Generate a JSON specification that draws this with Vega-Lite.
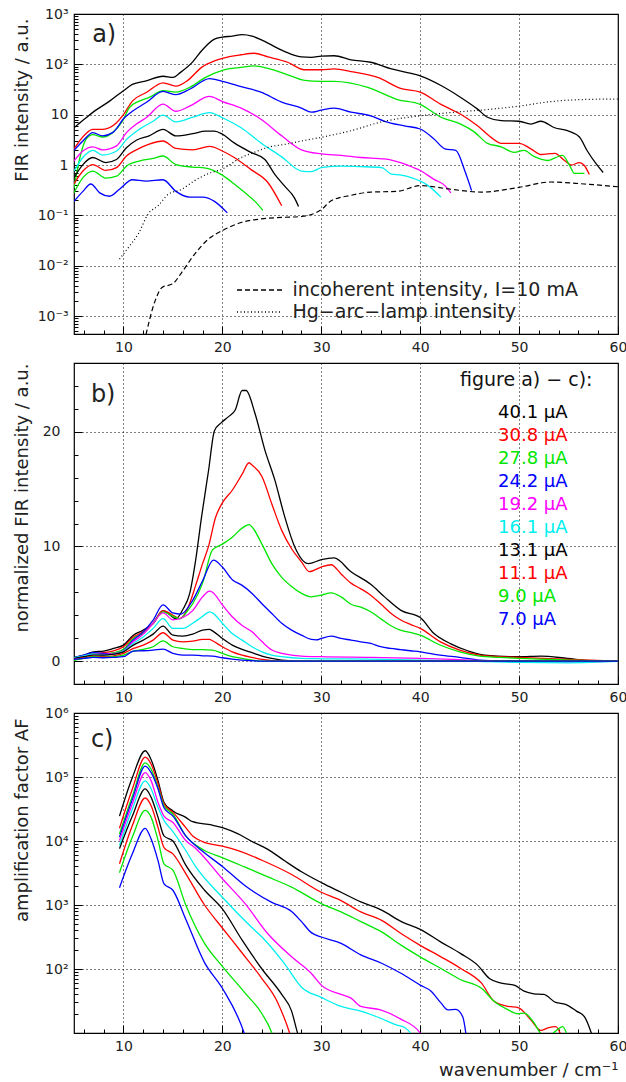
{
"$schema": "https://vega.github.io/schema/vega-lite/v6.json",
"background": "white",
"padding": {"left": 12, "top": 6, "right": 0, "bottom": 2},
"bounds": "flush",
"spacing": 29,
"resolve": {"scale": {"color": "independent", "strokeDash": "independent"}, "legend": {"color": "independent", "strokeDash": "independent"}},
"datasets": {
"A": [
{"s":40.1,"x":5,"y":5.5},{"s":40.1,"x":6,"y":8},{"s":40.1,"x":7,"y":11.5},{"s":40.1,"x":8.6,"y":18.6},{"s":40.1,"x":10,"y":30},{"s":40.1,"x":10.9,"y":40},{"s":40.1,"x":12.3,"y":47},{"s":40.1,"x":14,"y":58},{"s":40.1,"x":15,"y":55},{"s":40.1,"x":15.8,"y":70},{"s":40.1,"x":17,"y":112},{"s":40.1,"x":17.9,"y":186},{"s":40.1,"x":19.2,"y":316},{"s":40.1,"x":20,"y":347},{"s":40.1,"x":21,"y":363},{"s":40.1,"x":22,"y":389},{"s":40.1,"x":23,"y":363},{"s":40.1,"x":24,"y":302},{"s":40.1,"x":25,"y":240},{"s":40.1,"x":26,"y":191},{"s":40.1,"x":27,"y":158},{"s":40.1,"x":28,"y":141},{"s":40.1,"x":29,"y":138},{"s":40.1,"x":30,"y":145},{"s":40.1,"x":31.3,"y":148},{"s":40.1,"x":33,"y":123},{"s":40.1,"x":35,"y":110},{"s":40.1,"x":37.1,"y":81},{"s":40.1,"x":39.1,"y":66},{"s":40.1,"x":40,"y":59},{"s":40.1,"x":42.1,"y":38},{"s":40.1,"x":44.1,"y":22},{"s":40.1,"x":45.8,"y":12.9},{"s":40.1,"x":46.8,"y":8.9},{"s":40.1,"x":48.2,"y":7.6},{"s":40.1,"x":50,"y":7.4},{"s":40.1,"x":51.2,"y":6.5},{"s":40.1,"x":52.2,"y":7.4},{"s":40.1,"x":53.6,"y":5.5},{"s":40.1,"x":54.9,"y":4.8},{"s":40.1,"x":56.1,"y":3.6},{"s":40.1,"x":56.9,"y":1.9},{"s":40.1,"x":57.8,"y":1.05},{"s":40.1,"x":58.5,"y":0.71},
{"s":30.8,"x":5,"y":2.1},{"s":30.8,"x":6.2,"y":4.2},{"s":30.8,"x":6.9,"y":5.1},{"s":30.8,"x":7.9,"y":5.1},{"s":30.8,"x":9.3,"y":6.9},{"s":30.8,"x":10,"y":10},{"s":30.8,"x":10.9,"y":18.6},{"s":30.8,"x":12.3,"y":27.5},{"s":30.8,"x":14,"y":43},{"s":30.8,"x":15.3,"y":37},{"s":30.8,"x":16.5,"y":48},{"s":30.8,"x":17.9,"y":87},{"s":30.8,"x":19.2,"y":117},{"s":30.8,"x":20,"y":132},{"s":30.8,"x":21.9,"y":155},{"s":30.8,"x":23.2,"y":166},{"s":30.8,"x":24.6,"y":141},{"s":30.8,"x":26.6,"y":110},{"s":30.8,"x":28.3,"y":78},{"s":30.8,"x":30,"y":78},{"s":30.8,"x":31.3,"y":81},{"s":30.8,"x":33,"y":72},{"s":30.8,"x":35.7,"y":55},{"s":30.8,"x":38.1,"y":33},{"s":30.8,"x":40,"y":28},{"s":30.8,"x":42.1,"y":16},{"s":30.8,"x":44.1,"y":10.2},{"s":30.8,"x":45.8,"y":6},{"s":30.8,"x":47.2,"y":3.5},{"s":30.8,"x":48.2,"y":2.7},{"s":30.8,"x":50,"y":2.7},{"s":30.8,"x":51.2,"y":2.1},{"s":30.8,"x":52.2,"y":1.62},{"s":30.8,"x":53.6,"y":1.7},{"s":30.8,"x":54.6,"y":1.23},{"s":30.8,"x":55.3,"y":1},{"s":30.8,"x":56.1,"y":1.12},{"s":30.8,"x":56.6,"y":0.98},{"s":30.8,"x":57.1,"y":0.65},
{"s":27.8,"x":5,"y":0.35},{"s":27.8,"x":5.6,"y":1.41},{"s":27.8,"x":6.2,"y":3.2},{"s":27.8,"x":6.9,"y":4},{"s":27.8,"x":7.9,"y":3.6},{"s":27.8,"x":8.9,"y":4.4},{"s":27.8,"x":9.9,"y":7.4},{"s":27.8,"x":10.6,"y":13.8},{"s":27.8,"x":11.6,"y":18.6},{"s":27.8,"x":12.6,"y":22},{"s":27.8,"x":14,"y":30},{"s":27.8,"x":15.3,"y":28},{"s":27.8,"x":16.7,"y":35},{"s":27.8,"x":18.3,"y":55},{"s":27.8,"x":20,"y":76},{"s":27.8,"x":21.9,"y":87},{"s":27.8,"x":23.2,"y":93},{"s":27.8,"x":24.6,"y":83},{"s":27.8,"x":26.6,"y":62},{"s":27.8,"x":28.3,"y":48},{"s":27.8,"x":30,"y":46},{"s":27.8,"x":31.3,"y":46},{"s":27.8,"x":34.7,"y":35},{"s":27.8,"x":37.7,"y":20},{"s":27.8,"x":40,"y":16},{"s":27.8,"x":42.1,"y":8.9},{"s":27.8,"x":44.1,"y":6.5},{"s":27.8,"x":45.5,"y":4.5},{"s":27.8,"x":46.8,"y":2.7},{"s":27.8,"x":48.2,"y":2.3},{"s":27.8,"x":49.5,"y":1.78},{"s":27.8,"x":50.5,"y":1.95},{"s":27.8,"x":51.5,"y":1.48},{"s":27.8,"x":52.9,"y":1.23},{"s":27.8,"x":53.7,"y":1.41},{"s":27.8,"x":54.4,"y":1.55},{"s":27.8,"x":55.1,"y":0.98},{"s":27.8,"x":55.6,"y":0.68},{"s":27.8,"x":56.6,"y":0.68},
{"s":24.2,"x":5,"y":1.95},{"s":24.2,"x":5.9,"y":3},{"s":24.2,"x":6.9,"y":4.4},{"s":24.2,"x":7.9,"y":3.8},{"s":24.2,"x":8.9,"y":4.4},{"s":24.2,"x":10.1,"y":8.7},{"s":24.2,"x":10.9,"y":11.7},{"s":24.2,"x":12.3,"y":17.4},{"s":24.2,"x":14,"y":29},{"s":24.2,"x":15.3,"y":25},{"s":24.2,"x":16.7,"y":32},{"s":24.2,"x":18.7,"y":52},{"s":24.2,"x":20,"y":46},{"s":24.2,"x":21.9,"y":36},{"s":24.2,"x":23.9,"y":28},{"s":24.2,"x":26,"y":17.8},{"s":24.2,"x":28,"y":13.5},{"s":24.2,"x":29,"y":11.2},{"s":24.2,"x":30,"y":12.3},{"s":24.2,"x":31.3,"y":13.5},{"s":24.2,"x":33,"y":11.2},{"s":24.2,"x":35,"y":9.5},{"s":24.2,"x":36.4,"y":7.4},{"s":24.2,"x":38.4,"y":6},{"s":24.2,"x":40,"y":5.2},{"s":24.2,"x":41.4,"y":3.3},{"s":24.2,"x":42.5,"y":2.1},{"s":24.2,"x":43.6,"y":1.95},{"s":24.2,"x":44.5,"y":0.78},{"s":24.2,"x":45.2,"y":0.31},
{"s":19.2,"x":5,"y":1.2},{"s":19.2,"x":5.9,"y":1.9},{"s":19.2,"x":6.9,"y":2.3},{"s":19.2,"x":7.9,"y":2},{"s":19.2,"x":9.3,"y":2.4},{"s":19.2,"x":10.3,"y":4.4},{"s":19.2,"x":11.3,"y":6.5},{"s":19.2,"x":12.3,"y":8.7},{"s":19.2,"x":14,"y":16.2},{"s":19.2,"x":15.3,"y":11.7},{"s":19.2,"x":16.7,"y":14.8},{"s":19.2,"x":18.7,"y":23},{"s":19.2,"x":20,"y":18.2},{"s":19.2,"x":21.9,"y":13.5},{"s":19.2,"x":23.9,"y":8.1},{"s":19.2,"x":26,"y":3.8},{"s":19.2,"x":28,"y":2},{"s":19.2,"x":30,"y":1.66},{"s":19.2,"x":32,"y":1.55},{"s":19.2,"x":34,"y":1.41},{"s":19.2,"x":36.4,"y":1.32},{"s":19.2,"x":38.8,"y":0.98},{"s":19.2,"x":40,"y":0.78},{"s":19.2,"x":41.4,"y":0.52},{"s":19.2,"x":42.5,"y":0.39},{"s":19.2,"x":43.1,"y":0.28},
{"s":16.1,"x":5,"y":0.76},{"s":16.1,"x":5.9,"y":1.41},{"s":16.1,"x":6.9,"y":1.95},{"s":16.1,"x":7.9,"y":1.58},{"s":16.1,"x":9.3,"y":1.9},{"s":16.1,"x":10.3,"y":3.2},{"s":16.1,"x":11.6,"y":5.1},{"s":16.1,"x":13,"y":7.4},{"s":16.1,"x":14,"y":9.8},{"s":16.1,"x":15.3,"y":7.2},{"s":16.1,"x":17,"y":8.9},{"s":16.1,"x":18.7,"y":11},{"s":16.1,"x":20,"y":8.7},{"s":16.1,"x":21.9,"y":5.5},{"s":16.1,"x":23.9,"y":2.75},{"s":16.1,"x":26,"y":1.45},{"s":16.1,"x":28,"y":0.76},{"s":16.1,"x":29,"y":0.74},{"s":16.1,"x":30,"y":0.89},{"s":16.1,"x":32,"y":0.95},{"s":16.1,"x":34,"y":0.93},{"s":16.1,"x":36.1,"y":0.89},{"s":16.1,"x":37.1,"y":0.66},{"s":16.1,"x":38.1,"y":0.63},{"s":16.1,"x":39.1,"y":0.56},{"s":16.1,"x":40.8,"y":0.39},{"s":16.1,"x":42.1,"y":0.23},
{"s":13.1,"x":5,"y":0.56},{"s":13.1,"x":5.9,"y":1.02},{"s":13.1,"x":6.9,"y":1.41},{"s":13.1,"x":8.2,"y":1.12},{"s":13.1,"x":9.3,"y":1.29},{"s":13.1,"x":10.3,"y":2.2},{"s":13.1,"x":11.3,"y":3.1},{"s":13.1,"x":12.6,"y":3.8},{"s":13.1,"x":14,"y":5.1},{"s":13.1,"x":15.3,"y":3.8},{"s":13.1,"x":17,"y":4.2},{"s":13.1,"x":18.3,"y":4.7},{"s":13.1,"x":19.2,"y":4.7},{"s":13.1,"x":20,"y":4.1},{"s":13.1,"x":21.2,"y":2.75},{"s":13.1,"x":22.9,"y":1.78},{"s":13.1,"x":24.3,"y":1.29},{"s":13.1,"x":25.3,"y":0.65},{"s":13.1,"x":26.3,"y":0.38},{"s":13.1,"x":27.3,"y":0.22},{"s":13.1,"x":27.7,"y":0.15},
{"s":11.1,"x":5,"y":0.42},{"s":11.1,"x":5.9,"y":0.76},{"s":11.1,"x":6.9,"y":1.02},{"s":11.1,"x":8.2,"y":0.78},{"s":11.1,"x":9.3,"y":0.89},{"s":11.1,"x":10.3,"y":1.51},{"s":11.1,"x":11.3,"y":2},{"s":11.1,"x":12.6,"y":2.6},{"s":11.1,"x":14,"y":3},{"s":11.1,"x":15.3,"y":2.14},{"s":11.1,"x":17,"y":2},{"s":11.1,"x":18.7,"y":2.34},{"s":11.1,"x":20,"y":1.9},{"s":11.1,"x":21.2,"y":1.41},{"s":11.1,"x":22.9,"y":0.81},{"s":11.1,"x":24.6,"y":0.45},{"s":11.1,"x":26,"y":0.155},
{"s":9,"x":5,"y":0.28},{"s":9,"x":5.9,"y":0.56},{"s":9,"x":6.9,"y":0.76},{"s":9,"x":8.2,"y":0.55},{"s":9,"x":9.3,"y":0.6},{"s":9,"x":10.3,"y":0.95},{"s":9,"x":11.6,"y":1.2},{"s":9,"x":13,"y":1.35},{"s":9,"x":14,"y":1.51},{"s":9,"x":15.3,"y":1.02},{"s":9,"x":17,"y":0.91},{"s":9,"x":18.3,"y":0.87},{"s":9,"x":20,"y":0.63},{"s":9,"x":21.2,"y":0.42},{"s":9,"x":22.3,"y":0.28},{"s":9,"x":23.3,"y":0.19},{"s":9,"x":24.1,"y":0.126},
{"s":7,"x":5,"y":0.19},{"s":7,"x":5.9,"y":0.3},{"s":7,"x":6.7,"y":0.42},{"s":7,"x":7.6,"y":0.28},{"s":7,"x":8.6,"y":0.24},{"s":7,"x":9.6,"y":0.33},{"s":7,"x":10.9,"y":0.51},{"s":7,"x":12.3,"y":0.48},{"s":7,"x":14,"y":0.51},{"s":7,"x":15.3,"y":0.3},{"s":7,"x":16.7,"y":0.23},{"s":7,"x":18,"y":0.23},{"s":7,"x":19.2,"y":0.19},{"s":7,"x":20.5,"y":0.112}
],
"R": [
{"s":"incoherent intensity, I=10 mA","x":12.1,"y":0.0003},{"s":"incoherent intensity, I=10 mA","x":13.2,"y":0.002},{"s":"incoherent intensity, I=10 mA","x":13.9,"y":0.0037},{"s":"incoherent intensity, I=10 mA","x":15,"y":0.0044},{"s":"incoherent intensity, I=10 mA","x":15.9,"y":0.0074},{"s":"incoherent intensity, I=10 mA","x":17.2,"y":0.017},{"s":"incoherent intensity, I=10 mA","x":18.6,"y":0.034},{"s":"incoherent intensity, I=10 mA","x":20,"y":0.05},{"s":"incoherent intensity, I=10 mA","x":21.9,"y":0.072},{"s":"incoherent intensity, I=10 mA","x":23.9,"y":0.085},{"s":"incoherent intensity, I=10 mA","x":26,"y":0.091},{"s":"incoherent intensity, I=10 mA","x":28,"y":0.095},{"s":"incoherent intensity, I=10 mA","x":30,"y":0.13},{"s":"incoherent intensity, I=10 mA","x":31,"y":0.195},{"s":"incoherent intensity, I=10 mA","x":33,"y":0.25},{"s":"incoherent intensity, I=10 mA","x":35,"y":0.29},{"s":"incoherent intensity, I=10 mA","x":37.7,"y":0.3},{"s":"incoherent intensity, I=10 mA","x":40,"y":0.39},{"s":"incoherent intensity, I=10 mA","x":43.1,"y":0.33},{"s":"incoherent intensity, I=10 mA","x":46.2,"y":0.29},{"s":"incoherent intensity, I=10 mA","x":50,"y":0.36},{"s":"incoherent intensity, I=10 mA","x":53.2,"y":0.46},{"s":"incoherent intensity, I=10 mA","x":56.6,"y":0.42},{"s":"incoherent intensity, I=10 mA","x":60,"y":0.37},
{"s":"Hg−arc−lamp intensity","x":9.6,"y":0.0135},{"s":"Hg−arc−lamp intensity","x":10.5,"y":0.023},{"s":"Hg−arc−lamp intensity","x":11.5,"y":0.043},{"s":"Hg−arc−lamp intensity","x":12.5,"y":0.107},{"s":"Hg−arc−lamp intensity","x":13.5,"y":0.155},{"s":"Hg−arc−lamp intensity","x":14.5,"y":0.26},{"s":"Hg−arc−lamp intensity","x":15.9,"y":0.33},{"s":"Hg−arc−lamp intensity","x":17.2,"y":0.49},{"s":"Hg−arc−lamp intensity","x":18.6,"y":0.68},{"s":"Hg−arc−lamp intensity","x":20,"y":0.83},{"s":"Hg−arc−lamp intensity","x":21.9,"y":1.41},{"s":"Hg−arc−lamp intensity","x":23.2,"y":1.78},{"s":"Hg−arc−lamp intensity","x":24.6,"y":2.24},{"s":"Hg−arc−lamp intensity","x":26.6,"y":2.63},{"s":"Hg−arc−lamp intensity","x":28,"y":3},{"s":"Hg−arc−lamp intensity","x":30,"y":3.55},{"s":"Hg−arc−lamp intensity","x":33,"y":4.8},{"s":"Hg−arc−lamp intensity","x":36.1,"y":7.2},{"s":"Hg−arc−lamp intensity","x":40,"y":9.5},{"s":"Hg−arc−lamp intensity","x":43,"y":11},{"s":"Hg−arc−lamp intensity","x":46.5,"y":12.5},{"s":"Hg−arc−lamp intensity","x":50,"y":14.8},{"s":"Hg−arc−lamp intensity","x":53,"y":18},{"s":"Hg−arc−lamp intensity","x":56.5,"y":20},{"s":"Hg−arc−lamp intensity","x":60,"y":20.5}
],
"B": [
{"s":40.1,"x":5,"y":0.32},{"s":40.1,"x":6,"y":0.52},{"s":40.1,"x":7,"y":0.81},{"s":40.1,"x":8,"y":0.87},{"s":40.1,"x":9,"y":1.1},{"s":40.1,"x":10,"y":1.39},{"s":40.1,"x":11,"y":2.26},{"s":40.1,"x":12,"y":2.7},{"s":40.1,"x":13,"y":3.28},{"s":40.1,"x":14,"y":4.4},{"s":40.1,"x":15.3,"y":3.7},{"s":40.1,"x":16,"y":4.5},{"s":40.1,"x":16.7,"y":5.9},{"s":40.1,"x":17.3,"y":8.8},{"s":40.1,"x":17.9,"y":12.6},{"s":40.1,"x":18.6,"y":16.6},{"s":40.1,"x":19.2,"y":20.1},{"s":40.1,"x":19.9,"y":20.8},{"s":40.1,"x":20.6,"y":21.3},{"s":40.1,"x":21.3,"y":21.9},{"s":40.1,"x":22,"y":23.6},{"s":40.1,"x":22.4,"y":23.6},{"s":40.1,"x":23.3,"y":21.6},{"s":40.1,"x":24.3,"y":18.4},{"s":40.1,"x":25.3,"y":15.8},{"s":40.1,"x":26.3,"y":12.6},{"s":40.1,"x":27.3,"y":10},{"s":40.1,"x":28.7,"y":8.5},{"s":40.1,"x":30,"y":8.85},{"s":40.1,"x":31.3,"y":9},{"s":40.1,"x":33,"y":7.8},{"s":40.1,"x":35,"y":6.7},{"s":40.1,"x":36.4,"y":5.6},{"s":40.1,"x":38.1,"y":4.4},{"s":40.1,"x":40,"y":3.8},{"s":40.1,"x":41.4,"y":2.4},{"s":40.1,"x":43.1,"y":1.5},{"s":40.1,"x":44.8,"y":0.9},{"s":40.1,"x":46.5,"y":0.52},{"s":40.1,"x":50,"y":0.38},{"s":40.1,"x":52.2,"y":0.44},{"s":40.1,"x":54.9,"y":0.23},{"s":40.1,"x":57.3,"y":0.03},{"s":40.1,"x":60,"y":0},
{"s":30.8,"x":5,"y":0.23},{"s":30.8,"x":6,"y":0.44},{"s":30.8,"x":7,"y":0.67},{"s":30.8,"x":8,"y":0.73},{"s":30.8,"x":9,"y":0.9},{"s":30.8,"x":10,"y":1.25},{"s":30.8,"x":11,"y":2.1},{"s":30.8,"x":12,"y":2.55},{"s":30.8,"x":13,"y":3.3},{"s":30.8,"x":14,"y":4.4},{"s":30.8,"x":15,"y":4},{"s":30.8,"x":15.7,"y":3.7},{"s":30.8,"x":16.5,"y":4.6},{"s":30.8,"x":17.3,"y":6.6},{"s":30.8,"x":18,"y":8.5},{"s":30.8,"x":18.6,"y":10},{"s":30.8,"x":19.3,"y":12.5},{"s":30.8,"x":20,"y":13.8},{"s":30.8,"x":21,"y":14.9},{"s":30.8,"x":22,"y":16.3},{"s":30.8,"x":22.7,"y":17.3},{"s":30.8,"x":23,"y":17.1},{"s":30.8,"x":24,"y":16.1},{"s":30.8,"x":25,"y":13.7},{"s":30.8,"x":26,"y":11.4},{"s":30.8,"x":27,"y":9.8},{"s":30.8,"x":28,"y":8.65},{"s":30.8,"x":28.8,"y":7.8},{"s":30.8,"x":30,"y":8.2},{"s":30.8,"x":31,"y":8.4},{"s":30.8,"x":32,"y":7.6},{"s":30.8,"x":33,"y":6.8},{"s":30.8,"x":34,"y":6.3},{"s":30.8,"x":35,"y":5.75},{"s":30.8,"x":36,"y":5},{"s":30.8,"x":37,"y":4.2},{"s":30.8,"x":38,"y":3.6},{"s":30.8,"x":39,"y":3.2},{"s":30.8,"x":40,"y":2.85},{"s":30.8,"x":42,"y":1.7},{"s":30.8,"x":44,"y":0.96},{"s":30.8,"x":46,"y":0.52},{"s":30.8,"x":48,"y":0.38},{"s":30.8,"x":50,"y":0.32},{"s":30.8,"x":55,"y":0.15},{"s":30.8,"x":60,"y":0},
{"s":27.8,"x":5,"y":0.09},{"s":27.8,"x":6,"y":0.32},{"s":27.8,"x":7,"y":0.67},{"s":27.8,"x":8,"y":0.61},{"s":27.8,"x":9,"y":0.73},{"s":27.8,"x":10,"y":1.02},{"s":27.8,"x":11,"y":1.97},{"s":27.8,"x":12,"y":2.4},{"s":27.8,"x":13,"y":3.3},{"s":27.8,"x":14,"y":4.3},{"s":27.8,"x":15,"y":3.9},{"s":27.8,"x":15.7,"y":3.7},{"s":27.8,"x":16.5,"y":4.4},{"s":27.8,"x":17,"y":5},{"s":27.8,"x":18,"y":6.8},{"s":27.8,"x":19,"y":9.7},{"s":27.8,"x":20,"y":10.2},{"s":27.8,"x":21,"y":10.8},{"s":27.8,"x":22,"y":11.6},{"s":27.8,"x":22.7,"y":11.9},{"s":27.8,"x":23,"y":11.7},{"s":27.8,"x":24,"y":10.2},{"s":27.8,"x":25,"y":8.5},{"s":27.8,"x":26,"y":7.3},{"s":27.8,"x":27,"y":6.5},{"s":27.8,"x":28,"y":5.9},{"s":27.8,"x":29,"y":5.6},{"s":27.8,"x":30,"y":5.75},{"s":27.8,"x":31,"y":5.95},{"s":27.8,"x":32,"y":5.6},{"s":27.8,"x":33,"y":4.96},{"s":27.8,"x":34,"y":4.7},{"s":27.8,"x":35,"y":4.3},{"s":27.8,"x":36,"y":3.7},{"s":27.8,"x":37,"y":3.1},{"s":27.8,"x":38,"y":2.7},{"s":27.8,"x":39,"y":2.5},{"s":27.8,"x":40,"y":2.26},{"s":27.8,"x":42,"y":1.4},{"s":27.8,"x":44,"y":0.81},{"s":27.8,"x":46,"y":0.44},{"s":27.8,"x":48,"y":0.32},{"s":27.8,"x":50,"y":0.23},{"s":27.8,"x":55,"y":0.09},{"s":27.8,"x":60,"y":0},
{"s":24.2,"x":5,"y":0.29},{"s":24.2,"x":6,"y":0.52},{"s":24.2,"x":7,"y":0.73},{"s":24.2,"x":8,"y":0.67},{"s":24.2,"x":9,"y":0.61},{"s":24.2,"x":10,"y":0.9},{"s":24.2,"x":11,"y":1.83},{"s":24.2,"x":12,"y":2.55},{"s":24.2,"x":13,"y":3.57},{"s":24.2,"x":14,"y":4.9},{"s":24.2,"x":15,"y":4.2},{"s":24.2,"x":15.8,"y":4.1},{"s":24.2,"x":17,"y":5.3},{"s":24.2,"x":18,"y":7},{"s":24.2,"x":19.1,"y":8.8},{"s":24.2,"x":20,"y":8.2},{"s":24.2,"x":21,"y":7.1},{"s":24.2,"x":22,"y":6.6},{"s":24.2,"x":23,"y":5.9},{"s":24.2,"x":24,"y":5},{"s":24.2,"x":25,"y":4.15},{"s":24.2,"x":26,"y":3.3},{"s":24.2,"x":27,"y":2.7},{"s":24.2,"x":28,"y":2.26},{"s":24.2,"x":29,"y":1.89},{"s":24.2,"x":29.5,"y":1.85},{"s":24.2,"x":30,"y":1.97},{"s":24.2,"x":31,"y":2.18},{"s":24.2,"x":32,"y":1.97},{"s":24.2,"x":33,"y":1.83},{"s":24.2,"x":34,"y":1.68},{"s":24.2,"x":35,"y":1.54},{"s":24.2,"x":36,"y":1.25},{"s":24.2,"x":37,"y":1.1},{"s":24.2,"x":38,"y":1},{"s":24.2,"x":39,"y":0.9},{"s":24.2,"x":40,"y":0.81},{"s":24.2,"x":42,"y":0.52},{"s":24.2,"x":44,"y":0.32},{"s":24.2,"x":46,"y":0.09},{"s":24.2,"x":50,"y":0},{"s":24.2,"x":60,"y":0},
{"s":19.2,"x":5,"y":0.23},{"s":19.2,"x":6,"y":0.44},{"s":19.2,"x":7,"y":0.61},{"s":19.2,"x":8,"y":0.58},{"s":19.2,"x":9,"y":0.67},{"s":19.2,"x":10,"y":0.9},{"s":19.2,"x":11,"y":1.7},{"s":19.2,"x":12,"y":2.35},{"s":19.2,"x":13,"y":3.3},{"s":19.2,"x":14,"y":4.2},{"s":19.2,"x":15,"y":3.6},{"s":19.2,"x":16,"y":3.8},{"s":19.2,"x":17,"y":4.4},{"s":19.2,"x":18,"y":5.6},{"s":19.2,"x":18.7,"y":6.1},{"s":19.2,"x":19,"y":6},{"s":19.2,"x":20,"y":4.9},{"s":19.2,"x":21,"y":3.86},{"s":19.2,"x":22,"y":3.1},{"s":19.2,"x":23,"y":2.55},{"s":19.2,"x":24,"y":1.7},{"s":19.2,"x":25,"y":0.96},{"s":19.2,"x":26,"y":0.67},{"s":19.2,"x":27,"y":0.52},{"s":19.2,"x":28,"y":0.44},{"s":19.2,"x":30,"y":0.38},{"s":19.2,"x":35,"y":0.32},{"s":19.2,"x":40,"y":0.23},{"s":19.2,"x":45,"y":0.09},{"s":19.2,"x":50,"y":-0.06},{"s":19.2,"x":55,"y":-0.09},{"s":19.2,"x":60,"y":0},
{"s":16.1,"x":5,"y":0.29},{"s":16.1,"x":6,"y":0.46},{"s":16.1,"x":7,"y":0.61},{"s":16.1,"x":8,"y":0.52},{"s":16.1,"x":9,"y":0.61},{"s":16.1,"x":10,"y":0.87},{"s":16.1,"x":11,"y":1.54},{"s":16.1,"x":12,"y":2.1},{"s":16.1,"x":13,"y":2.85},{"s":16.1,"x":14,"y":3.7},{"s":16.1,"x":15,"y":2.85},{"s":16.1,"x":16,"y":2.85},{"s":16.1,"x":17,"y":3.3},{"s":16.1,"x":18,"y":3.9},{"s":16.1,"x":18.7,"y":4.3},{"s":16.1,"x":19,"y":4.2},{"s":16.1,"x":20,"y":3.3},{"s":16.1,"x":21,"y":2.4},{"s":16.1,"x":22,"y":1.83},{"s":16.1,"x":23,"y":1.25},{"s":16.1,"x":24,"y":0.81},{"s":16.1,"x":25,"y":0.52},{"s":16.1,"x":26,"y":0.38},{"s":16.1,"x":28,"y":0.23},{"s":16.1,"x":30,"y":0.2},{"s":16.1,"x":35,"y":0.17},{"s":16.1,"x":40,"y":0.09},{"s":16.1,"x":45,"y":0},{"s":16.1,"x":50,"y":-0.12},{"s":16.1,"x":55,"y":-0.15},{"s":16.1,"x":60,"y":-0.03},
{"s":13.1,"x":5,"y":0.23},{"s":13.1,"x":6,"y":0.38},{"s":13.1,"x":7,"y":0.52},{"s":13.1,"x":8,"y":0.52},{"s":13.1,"x":9,"y":0.61},{"s":13.1,"x":10,"y":0.81},{"s":13.1,"x":11,"y":1.39},{"s":13.1,"x":12,"y":1.83},{"s":13.1,"x":13,"y":2.35},{"s":13.1,"x":14,"y":3.05},{"s":13.1,"x":15,"y":2.26},{"s":13.1,"x":16,"y":2.18},{"s":13.1,"x":17,"y":2.35},{"s":13.1,"x":18,"y":2.7},{"s":13.1,"x":18.7,"y":2.76},{"s":13.1,"x":19,"y":2.64},{"s":13.1,"x":20,"y":1.97},{"s":13.1,"x":21,"y":1.39},{"s":13.1,"x":22,"y":1.02},{"s":13.1,"x":23,"y":0.73},{"s":13.1,"x":24,"y":0.44},{"s":13.1,"x":25,"y":0.23},{"s":13.1,"x":26,"y":0.09},{"s":13.1,"x":28,"y":0},{"s":13.1,"x":60,"y":0},
{"s":11.1,"x":5,"y":0.15},{"s":11.1,"x":6,"y":0.29},{"s":11.1,"x":7,"y":0.44},{"s":11.1,"x":8,"y":0.38},{"s":11.1,"x":9,"y":0.46},{"s":11.1,"x":10,"y":0.67},{"s":11.1,"x":11,"y":1.1},{"s":11.1,"x":12,"y":1.39},{"s":11.1,"x":13,"y":1.83},{"s":11.1,"x":14,"y":2.47},{"s":11.1,"x":15,"y":1.83},{"s":11.1,"x":16,"y":1.68},{"s":11.1,"x":17,"y":1.74},{"s":11.1,"x":18,"y":1.89},{"s":11.1,"x":18.7,"y":1.89},{"s":11.1,"x":19,"y":1.77},{"s":11.1,"x":20,"y":1.25},{"s":11.1,"x":21,"y":0.81},{"s":11.1,"x":22,"y":0.52},{"s":11.1,"x":23,"y":0.32},{"s":11.1,"x":24,"y":0.15},{"s":11.1,"x":25,"y":0.03},{"s":11.1,"x":26,"y":0},{"s":11.1,"x":60,"y":0},
{"s":9,"x":5,"y":0.09},{"s":9,"x":6,"y":0.23},{"s":9,"x":7,"y":0.38},{"s":9,"x":8,"y":0.32},{"s":9,"x":9,"y":0.38},{"s":9,"x":10,"y":0.52},{"s":9,"x":11,"y":0.87},{"s":9,"x":12,"y":1.02},{"s":9,"x":13,"y":1.25},{"s":9,"x":14,"y":1.77},{"s":9,"x":15,"y":1.25},{"s":9,"x":16,"y":1.1},{"s":9,"x":17,"y":1},{"s":9,"x":18,"y":1},{"s":9,"x":19,"y":0.96},{"s":9,"x":20,"y":0.67},{"s":9,"x":21,"y":0.38},{"s":9,"x":22,"y":0.23},{"s":9,"x":23,"y":0.09},{"s":9,"x":24,"y":0},{"s":9,"x":60,"y":0},
{"s":7,"x":5,"y":0.15},{"s":7,"x":6,"y":0.23},{"s":7,"x":7,"y":0.32},{"s":7,"x":8,"y":0.29},{"s":7,"x":9,"y":0.32},{"s":7,"x":10,"y":0.38},{"s":7,"x":11,"y":0.87},{"s":7,"x":12,"y":0.9},{"s":7,"x":13,"y":0.96},{"s":7,"x":14,"y":1.05},{"s":7,"x":15,"y":0.67},{"s":7,"x":16,"y":0.52},{"s":7,"x":17,"y":0.52},{"s":7,"x":18,"y":0.46},{"s":7,"x":19,"y":0.44},{"s":7,"x":20,"y":0.29},{"s":7,"x":21,"y":0.17},{"s":7,"x":22,"y":0.09},{"s":7,"x":24,"y":0},{"s":7,"x":60,"y":0}
],
"C": [
{"s":40.1,"x":9.6,"y":24500},{"s":40.1,"x":10.9,"y":98000},{"s":40.1,"x":12.2,"y":257000},{"s":40.1,"x":12.8,"y":186000},{"s":40.1,"x":13.5,"y":87000},{"s":40.1,"x":14.1,"y":40000},{"s":40.1,"x":15,"y":29500},{"s":40.1,"x":16.3,"y":23400},{"s":40.1,"x":17,"y":20000},{"s":40.1,"x":18.9,"y":17800},{"s":40.1,"x":20,"y":16200},{"s":40.1,"x":21.6,"y":12900},{"s":40.1,"x":22.9,"y":10000},{"s":40.1,"x":24.6,"y":7400},{"s":40.1,"x":26.3,"y":4900},{"s":40.1,"x":28,"y":3300},{"s":40.1,"x":30,"y":2240},{"s":40.1,"x":32,"y":1580},{"s":40.1,"x":34,"y":1120},{"s":40.1,"x":36.1,"y":830},{"s":40.1,"x":38.1,"y":550},{"s":40.1,"x":40,"y":417},{"s":40.1,"x":42.1,"y":263},{"s":40.1,"x":44.1,"y":174},{"s":40.1,"x":45.8,"y":115},{"s":40.1,"x":47,"y":71},{"s":40.1,"x":48.2,"y":60},{"s":40.1,"x":49.5,"y":56},{"s":40.1,"x":50.5,"y":45},{"s":40.1,"x":51.5,"y":41},{"s":40.1,"x":52.5,"y":40},{"s":40.1,"x":53.7,"y":30},{"s":40.1,"x":54.7,"y":28},{"s":40.1,"x":55.8,"y":22},{"s":40.1,"x":56.6,"y":18},{"s":40.1,"x":57.3,"y":10},{"s":40.1,"x":57.5,"y":8},
{"s":30.8,"x":9.6,"y":15800},{"s":30.8,"x":10.9,"y":65000},{"s":30.8,"x":12.2,"y":204000},{"s":30.8,"x":12.8,"y":158000},{"s":30.8,"x":13.5,"y":78000},{"s":30.8,"x":14.1,"y":38000},{"s":30.8,"x":15,"y":28000},{"s":30.8,"x":16.3,"y":16200},{"s":30.8,"x":17,"y":12000},{"s":30.8,"x":18,"y":9800},{"s":30.8,"x":20,"y":8300},{"s":30.8,"x":21.6,"y":7100},{"s":30.8,"x":24,"y":5000},{"s":30.8,"x":27,"y":3000},{"s":30.8,"x":30,"y":1580},{"s":30.8,"x":32,"y":1170},{"s":30.8,"x":34,"y":780},{"s":30.8,"x":36.1,"y":575},{"s":30.8,"x":38.1,"y":355},{"s":30.8,"x":40,"y":234},{"s":30.8,"x":42.1,"y":155},{"s":30.8,"x":44.1,"y":102},{"s":30.8,"x":46.2,"y":60},{"s":30.8,"x":47.5,"y":31},{"s":30.8,"x":48.9,"y":26},{"s":30.8,"x":49.9,"y":25},{"s":30.8,"x":51.2,"y":16},{"s":30.8,"x":52.2,"y":11},{"s":30.8,"x":52.9,"y":12},{"s":30.8,"x":53.7,"y":12.6},{"s":30.8,"x":54.4,"y":8},
{"s":27.8,"x":9.6,"y":12900},{"s":27.8,"x":10.9,"y":50000},{"s":27.8,"x":12.2,"y":166000},{"s":27.8,"x":12.8,"y":132000},{"s":27.8,"x":13.5,"y":68000},{"s":27.8,"x":14.1,"y":35500},{"s":27.8,"x":15,"y":26300},{"s":27.8,"x":16.3,"y":12000},{"s":27.8,"x":18.2,"y":7100},{"s":27.8,"x":20,"y":5500},{"s":27.8,"x":22.3,"y":3900},{"s":27.8,"x":24.6,"y":2750},{"s":27.8,"x":27,"y":1900},{"s":27.8,"x":30,"y":1050},{"s":27.8,"x":32,"y":780},{"s":27.8,"x":34,"y":550},{"s":27.8,"x":36.1,"y":380},{"s":27.8,"x":38.1,"y":234},{"s":27.8,"x":40,"y":155},{"s":27.8,"x":42.1,"y":102},{"s":27.8,"x":44.1,"y":68},{"s":27.8,"x":46.2,"y":50},{"s":27.8,"x":47.5,"y":31},{"s":27.8,"x":48.9,"y":23},{"s":27.8,"x":49.9,"y":20},{"s":27.8,"x":50.5,"y":20.4},{"s":27.8,"x":51.5,"y":14.5},{"s":27.8,"x":52.3,"y":9.5},{"s":27.8,"x":53,"y":8.9},{"s":27.8,"x":53.7,"y":10.7},{"s":27.8,"x":54.4,"y":12.6},{"s":27.8,"x":55,"y":8},
{"s":24.2,"x":9.6,"y":11500},{"s":24.2,"x":10.9,"y":44700},{"s":24.2,"x":12.2,"y":148000},{"s":24.2,"x":12.8,"y":117000},{"s":24.2,"x":13.5,"y":65000},{"s":24.2,"x":14.1,"y":33000},{"s":24.2,"x":15,"y":24500},{"s":24.2,"x":16.3,"y":12000},{"s":24.2,"x":17.9,"y":7100},{"s":24.2,"x":20,"y":4000},{"s":24.2,"x":22.3,"y":2000},{"s":24.2,"x":25,"y":1100},{"s":24.2,"x":27,"y":790},{"s":24.2,"x":28,"y":550},{"s":24.2,"x":29,"y":370},{"s":24.2,"x":30,"y":316},{"s":24.2,"x":32,"y":251},{"s":24.2,"x":34,"y":166},{"s":24.2,"x":36.1,"y":123},{"s":24.2,"x":38.1,"y":85},{"s":24.2,"x":40,"y":56},{"s":24.2,"x":41.1,"y":45},{"s":24.2,"x":42.1,"y":29.5},{"s":24.2,"x":42.8,"y":23},{"s":24.2,"x":43.6,"y":23.4},{"s":24.2,"x":44.3,"y":18},{"s":24.2,"x":44.7,"y":8},
{"s":19.2,"x":9.6,"y":10200},{"s":19.2,"x":10.9,"y":38000},{"s":19.2,"x":12.2,"y":117000},{"s":19.2,"x":12.8,"y":87000},{"s":19.2,"x":13.5,"y":40000},{"s":19.2,"x":14.1,"y":24500},{"s":19.2,"x":15,"y":19500},{"s":19.2,"x":16.3,"y":10200},{"s":19.2,"x":17.2,"y":7900},{"s":19.2,"x":20,"y":2570},{"s":19.2,"x":22.3,"y":1050},{"s":19.2,"x":24.6,"y":355},{"s":19.2,"x":27,"y":155},{"s":19.2,"x":29,"y":85},{"s":19.2,"x":30,"y":56},{"s":19.2,"x":32,"y":40},{"s":19.2,"x":33,"y":35},{"s":19.2,"x":34,"y":26},{"s":19.2,"x":36,"y":23},{"s":19.2,"x":38,"y":16.6},{"s":19.2,"x":40,"y":10},{"s":19.2,"x":40.3,"y":8},
{"s":16.1,"x":9.6,"y":8500},{"s":16.1,"x":10.9,"y":31600},{"s":16.1,"x":12.2,"y":87000},{"s":16.1,"x":12.8,"y":65000},{"s":16.1,"x":13.5,"y":33000},{"s":16.1,"x":14.1,"y":21000},{"s":16.1,"x":15,"y":14000},{"s":16.1,"x":16.3,"y":7100},{"s":16.1,"x":17.2,"y":4200},{"s":16.1,"x":20,"y":1320},{"s":16.1,"x":22.9,"y":457},{"s":16.1,"x":24,"y":316},{"s":16.1,"x":26.3,"y":120},{"s":16.1,"x":28,"y":52},{"s":16.1,"x":30,"y":36},{"s":16.1,"x":32,"y":26},{"s":16.1,"x":34,"y":22},{"s":16.1,"x":36,"y":17},{"s":16.1,"x":37.5,"y":13.5},{"s":16.1,"x":38.5,"y":12},{"s":16.1,"x":39,"y":10},{"s":16.1,"x":39.3,"y":8},
{"s":13.1,"x":9.6,"y":7600},{"s":13.1,"x":10.9,"y":24500},{"s":13.1,"x":12.2,"y":65000},{"s":13.1,"x":12.8,"y":48000},{"s":13.1,"x":13.5,"y":23400},{"s":13.1,"x":14.1,"y":12000},{"s":13.1,"x":15,"y":10000},{"s":13.1,"x":16.3,"y":4200},{"s":13.1,"x":18.2,"y":1700},{"s":13.1,"x":20,"y":870},{"s":13.1,"x":22,"y":282},{"s":13.1,"x":24,"y":100},{"s":13.1,"x":26,"y":40},{"s":13.1,"x":27,"y":22},{"s":13.1,"x":27.6,"y":10},{"s":13.1,"x":27.8,"y":8},
{"s":11.1,"x":9.6,"y":4400},{"s":11.1,"x":10.9,"y":17400},{"s":11.1,"x":12.2,"y":47000},{"s":11.1,"x":12.8,"y":35500},{"s":11.1,"x":13.5,"y":16200},{"s":11.1,"x":14.1,"y":7900},{"s":11.1,"x":15,"y":6300},{"s":11.1,"x":16.3,"y":3100},{"s":11.1,"x":18.2,"y":1000},{"s":11.1,"x":20,"y":437},{"s":11.1,"x":22,"y":178},{"s":11.1,"x":24,"y":71},{"s":11.1,"x":25.5,"y":32},{"s":11.1,"x":26.8,"y":10},{"s":11.1,"x":27,"y":8},
{"s":9,"x":9.6,"y":3200},{"s":9,"x":10.9,"y":11500},{"s":9,"x":12.2,"y":30000},{"s":9,"x":12.8,"y":23400},{"s":9,"x":13.5,"y":10200},{"s":9,"x":14.1,"y":4400},{"s":9,"x":15,"y":3500},{"s":9,"x":16.3,"y":1000},{"s":9,"x":18.2,"y":251},{"s":9,"x":20,"y":110},{"s":9,"x":22.3,"y":42},{"s":9,"x":24,"y":20},{"s":9,"x":25,"y":10},{"s":9,"x":25.2,"y":8},
{"s":7,"x":9.6,"y":1860},{"s":7,"x":10.9,"y":6300},{"s":7,"x":12.2,"y":15800},{"s":7,"x":12.8,"y":10700},{"s":7,"x":13.5,"y":4900},{"s":7,"x":14.1,"y":2140},{"s":7,"x":15,"y":1700},{"s":7,"x":16.3,"y":600},{"s":7,"x":18.2,"y":126},{"s":7,"x":20,"y":50},{"s":7,"x":22.2,"y":10},{"s":7,"x":22.4,"y":8}
]
},
"vconcat": [
{
"width": 544, "height": 320,
"layer": [
{"data": {"name": "A"},
 "mark": {"type": "line", "clip": true, "strokeWidth": 1.3, "interpolate": "monotone"},
 "encoding": {
  "x": {"field": "x", "type": "quantitative", "scale": {"domain": [5, 60], "nice": false, "zero": false},
   "axis": {"title": null, "tickCount": 200, "values": [6,8,10,12,14,16,18,20,22,24,26,28,30,32,34,36,38,40,42,44,46,48,50,52,54,56,58,60], "labelExpr": "indexof([10,20,30,40,50,60], datum.value) >= 0 ? format(datum.value, 'd') : ''", "labelFlush": false, "labelOverlap": false, "labelSeparation": -1000, "tickSize": {"condition": {"test": "indexof([10,20,30,40,50,60], datum.value) >= 0", "value": -8}, "value": -4}, "labelPadding": 14, "grid": true, "gridOpacity": {"condition": {"test": "indexof([10,20,30,40,50], datum.value) >= 0", "value": 1}, "value": 0}}},
  "y": {"field": "y", "type": "quantitative", "scale": {"type": "log", "domain": [0.00044, 1000], "nice": false},
   "axis": {"title": "FIR intensity / a.u.", "titleX": -52, "titleY": 4, "titleAnchor": "end", "titleBaseline": "middle", "tickCount": 200,
    "values": [0.0005,0.0006,0.0007,0.0008,0.0009,0.001,0.002,0.003,0.004,0.005,0.006,0.007,0.008,0.009,0.01,0.02,0.03,0.04,0.05,0.06,0.07,0.08,0.09,0.1,0.2,0.3,0.4,0.5,0.6,0.7,0.8,0.9,1,2,3,4,5,6,7,8,9,10,20,30,40,50,60,70,80,90,100,200,300,400,500,600,700,800,900,1000],
    "labelExpr": "abs(log(datum.value)/LN10 - round(log(datum.value)/LN10)) > 0.000001 ? '' : ['10⁻³','10⁻²','10⁻¹','1','10','10²','10³'][round(log(datum.value)/LN10) + 3]",
    "labelOverlap": false, "labelSeparation": -1000, "labelPadding": 14,
    "tickSize": {"condition": {"test": "abs(log(datum.value)/LN10 - round(log(datum.value)/LN10)) < 0.000001", "value": -8}, "value": -4},
    "grid": true, "gridOpacity": {"condition": {"test": "abs(log(datum.value)/LN10 - round(log(datum.value)/LN10)) < 0.000001", "value": 1}, "value": 0}}},
  "color": {"field": "s", "type": "nominal", "scale": {"domain": [40.1,30.8,27.8,24.2,19.2,16.1,13.1,11.1,9,7], "range": ["#000000","#ff0000","#00e600","#0000ff","#ff00ff","#00f0f0","#000000","#ff0000","#00e600","#0000ff"]}, "legend": null}
 }},
{"data": {"name": "R"},
 "mark": {"type": "line", "clip": true, "strokeWidth": 1.2, "color": "black", "interpolate": "monotone"},
 "encoding": {
  "x": {"field": "x", "type": "quantitative"},
  "y": {"field": "y", "type": "quantitative"},
  "strokeDash": {"field": "s", "type": "nominal", "scale": {"domain": ["incoherent intensity, I=10 mA", "Hg−arc−lamp intensity"], "range": [[5, 3], [1, 2.5]]},
   "legend": {"orient": "none", "legendX": 173.5, "legendY": 264, "title": null, "labelFontSize": 19, "labelLimit": 500, "labelOffset": 21, "symbolSize": 506, "symbolStrokeWidth": 1.3, "symbolStrokeColor": "black", "symbolType": "M-2,0H2", "rowPadding": 0, "labelColor": "#222"}}
 }},
{"data": {"values": [{}]},
 "mark": {"type": "text", "fontSize": 24, "color": "#222", "align": "center", "baseline": "middle"},
 "encoding": {"x": {"datum": 8.05}, "y": {"datum": 390}, "text": {"value": "a)"}}}
]
},
{
"width": 544, "height": 321,
"layer": [
{"data": {"name": "B"},
 "mark": {"type": "line", "clip": true, "strokeWidth": 1.3, "interpolate": "monotone"},
 "encoding": {
  "x": {"field": "x", "type": "quantitative", "scale": {"domain": [5, 60], "nice": false, "zero": false},
   "axis": {"title": null, "tickCount": 200, "values": [6,8,10,12,14,16,18,20,22,24,26,28,30,32,34,36,38,40,42,44,46,48,50,52,54,56,58,60], "labelExpr": "indexof([10,20,30,40,50,60], datum.value) >= 0 ? format(datum.value, 'd') : ''", "labelFlush": false, "labelOverlap": false, "labelSeparation": -1000, "tickSize": {"condition": {"test": "indexof([10,20,30,40,50,60], datum.value) >= 0", "value": -8}, "value": -4}, "labelPadding": 14, "grid": true, "gridOpacity": {"condition": {"test": "indexof([10,20,30,40,50], datum.value) >= 0", "value": 1}, "value": 0}}},
  "y": {"field": "y", "type": "quantitative", "scale": {"domain": [-2, 26], "nice": false, "zero": false},
   "axis": {"title": "normalized FIR intensity / a.u.", "titleX": -52, "titleY": 0, "titleAnchor": "end", "titleBaseline": "middle", "tickCount": 200,
    "values": [-2,0,2,4,6,8,10,12,14,16,18,20,22,24,26],
    "labelExpr": "indexof([0,10,20], datum.value) >= 0 ? format(datum.value, 'd') : ''", "labelOverlap": false, "labelSeparation": -1000, "labelPadding": 22,
    "tickSize": {"condition": {"test": "indexof([0,10,20], datum.value) >= 0", "value": -8}, "value": -4},
    "grid": true, "gridOpacity": {"condition": {"test": "indexof([0,10,20], datum.value) >= 0", "value": 1}, "value": 0}}},
  "color": {"field": "s", "type": "nominal", "scale": {"domain": [40.1,30.8,27.8,24.2,19.2,16.1,13.1,11.1,9,7], "range": ["#000000","#ff0000","#00e600","#0000ff","#ff00ff","#00f0f0","#000000","#ff0000","#00e600","#0000ff"]},
   "legend": {"orient": "none", "legendX": 386, "legendY": 8, "title": "figure a) − c):", "titleFontSize": 19, "titleFontWeight": "normal", "titleColor": "#111", "titlePadding": 14, "labelFontSize": 18, "labelOffset": 20, "symbolSize": 1, "symbolOpacity": 0, "rowPadding": 5,
    "labelExpr": "format(datum.value, '.1f') + ' μA'",
    "encode": {"labels": {"update": {"fill": {"signal": "['#000000','#ff0000','#00e600','#0000ff','#ff00ff','#00f0f0','#000000','#ff0000','#00e600','#0000ff'][indexof([40.1,30.8,27.8,24.2,19.2,16.1,13.1,11.1,9,7], datum.value)]"}}}}}}
 }},
{"data": {"values": [{}]},
 "mark": {"type": "text", "fontSize": 24, "color": "#222", "align": "center", "baseline": "middle"},
 "encoding": {"x": {"datum": 7.95}, "y": {"datum": 23.2}, "text": {"value": "b)"}}}
]
},
{
"width": 544, "height": 320,
"layer": [
{"data": {"name": "C"},
 "mark": {"type": "line", "clip": true, "strokeWidth": 1.3, "interpolate": "monotone"},
 "encoding": {
  "x": {"field": "x", "type": "quantitative", "scale": {"domain": [5, 60], "nice": false, "zero": false},
   "axis": {"title": "wavenumber / cm⁻¹", "titleAnchor": "end", "titlePadding": 4, "titleFontSize": 18, "tickCount": 200, "values": [6,8,10,12,14,16,18,20,22,24,26,28,30,32,34,36,38,40,42,44,46,48,50,52,54,56,58,60], "labelExpr": "indexof([10,20,30,40,50,60], datum.value) >= 0 ? format(datum.value, 'd') : ''", "labelFlush": false, "labelOverlap": false, "labelSeparation": -1000, "tickSize": {"condition": {"test": "indexof([10,20,30,40,50,60], datum.value) >= 0", "value": -8}, "value": -4}, "labelPadding": 14, "grid": true, "gridOpacity": {"condition": {"test": "indexof([10,20,30,40,50], datum.value) >= 0", "value": 1}, "value": 0}}},
  "y": {"field": "y", "type": "quantitative", "scale": {"type": "log", "domain": [10, 1000000], "nice": false},
   "axis": {"title": "amplification factor AF", "titleX": -52, "titleY": 5, "titleAnchor": "end", "titleBaseline": "middle", "tickCount": 200,
    "values": [20,30,40,50,60,70,80,90,100,200,300,400,500,600,700,800,900,1000,2000,3000,4000,5000,6000,7000,8000,9000,10000,20000,30000,40000,50000,60000,70000,80000,90000,100000,200000,300000,400000,500000,600000,700000,800000,900000,1000000],
    "labelExpr": "abs(log(datum.value)/LN10 - round(log(datum.value)/LN10)) > 0.000001 ? '' : ['','10²','10³','10⁴','10⁵','10⁶'][round(log(datum.value)/LN10) - 1]",
    "labelOverlap": false, "labelSeparation": -1000, "labelPadding": 14,
    "tickSize": {"condition": {"test": "abs(log(datum.value)/LN10 - round(log(datum.value)/LN10)) < 0.000001", "value": -8}, "value": -4},
    "grid": true, "gridOpacity": {"condition": {"test": "abs(log(datum.value)/LN10 - round(log(datum.value)/LN10)) < 0.000001", "value": 1}, "value": 0}}},
  "color": {"field": "s", "type": "nominal", "scale": {"domain": [40.1,30.8,27.8,24.2,19.2,16.1,13.1,11.1,9,7], "range": ["#000000","#ff0000","#00e600","#0000ff","#ff00ff","#00f0f0","#000000","#ff0000","#00e600","#0000ff"]}, "legend": null}
 }},
{"data": {"values": [{}]},
 "mark": {"type": "text", "fontSize": 24, "color": "#222", "align": "center", "baseline": "middle"},
 "encoding": {"x": {"datum": 7.85}, "y": {"datum": 372000}, "text": {"value": "c)"}}}
]
}
],
"config": {
 "font": "DejaVu Sans",
 "view": {"stroke": "black", "strokeWidth": 1.2},
 "axis": {"domain": false, "labelFont": "DejaVu Sans", "labelFontSize": 14, "labelColor": "#222", "titleFont": "DejaVu Sans", "titleFontSize": 18, "titleFontWeight": "normal", "titleColor": "#222", "tickColor": "black", "tickWidth": 1, "gridColor": "black", "gridDash": [1, 3], "gridWidth": 1},
 "legend": {"labelFont": "DejaVu Sans", "titleFont": "DejaVu Sans"},
 "text": {"font": "DejaVu Sans"}
}
}
